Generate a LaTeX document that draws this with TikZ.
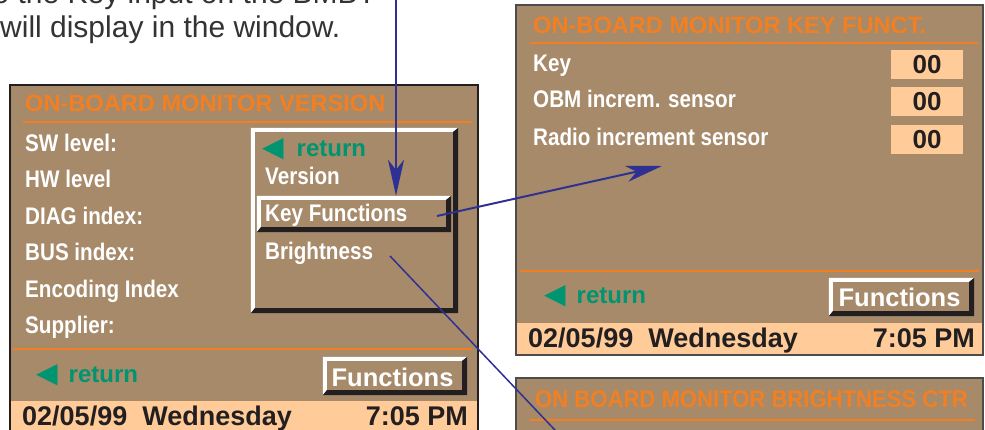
\documentclass[tikz,border=0pt]{standalone}
\usepackage{fontspec}
\setmainfont{Liberation Sans}
\newfontfamily\condfont{Liberation Sans}[FakeStretch=0.86]
\newfontfamily\narrowfont{Liberation Sans}[FakeStretch=0.92]
\newfontfamily\symfont{DejaVu Sans}
\usetikzlibrary{arrows.meta, positioning}

\definecolor{obmtan}{RGB}{166,138,106}
\definecolor{obmorange}{RGB}{242,128,34}
\definecolor{obmpeach}{RGB}{255,204,153}
\definecolor{obmgreen}{RGB}{0,148,112}
\definecolor{obmblue}{RGB}{46,49,146}
\definecolor{obmedge}{RGB}{35,31,32}

\tikzset{
  panel/.style={draw=obmedge, line width=2pt, fill=obmtan, inner sep=0pt},
  framebox/.style={inner sep=0pt, fill=obmtan},
  rule/.style={draw=obmorange, line width=2.5pt},
  title/.style={anchor=base west, inner sep=0pt, text=obmorange, font=\bfseries\fontsize{23.6}{24}\selectfont},
  lab/.style={anchor=base west, inner sep=0pt, text=white, font=\condfont\bfseries\fontsize{24}{24}\selectfont},
  ret/.style={anchor=base west, inner sep=0pt, text=obmgreen, font=\bfseries\fontsize{24}{24}\selectfont},
  btntext/.style={anchor=base, inner sep=0pt, text=white, font=\bfseries\fontsize{25.5}{25.5}\selectfont},
  datebar/.style={fill=obmpeach, inner sep=0pt},
  datetext/.style={inner sep=0pt, text=obmedge, font=\bfseries\fontsize{27}{27}\selectfont},
  valbox/.style={fill=obmpeach, inner sep=0pt, minimum width=72pt, minimum height=29pt, text=obmedge, font=\bfseries\fontsize{26}{26}\selectfont},
  intro/.style={anchor=base west, inner sep=0pt, text=black!80, font=\fontsize{30}{30}\selectfont},
  pointer/.style={draw=obmblue, line width=2pt, -{Stealth[length=36pt, width=16pt, inset=10pt]}}
}

% white top/left edge, dark bottom/right edge
\newcommand{\bevelframe}[1]{%
  \fill[white] (#1.north west) -- (#1.north east) -- ([shift={(-5,4)}]#1.north east)
    -- ([shift={(4,4)}]#1.north west) -- ([shift={(4,-5)}]#1.south west) -- (#1.south west) -- cycle;
  \fill[obmedge] (#1.south west) -- (#1.south east) -- (#1.north east) -- ([shift={(-5,4)}]#1.north east)
    -- ([shift={(-5,-5)}]#1.south east) -- ([shift={(4,-5)}]#1.south west) -- cycle;}
\newcommand{\lefttri}{{\symfont\fontsize{28}{28}\selectfont ◀}}

\begin{document}
\begin{tikzpicture}[x=1pt, y=-1pt]
  \useasboundingbox (0,0) rectangle (985,430);

  % intro text
  \node[intro] (introa) at (-16,4) {to the Key input on the BMBT};
  \node[intro] (introb) at (0,38) {will display in the window.};

  % version screen
  \node[panel, minimum width=468pt, minimum height=355pt] (verpanel) at (244,262.5) {};
  \node[title] (vertitle) at (25,112) {ON-BOARD MONITOR VERSION};
  \draw[rule] (23,122) -- (472,122);
  \foreach \txt [count=\i from 0] in {SW level:, HW level, DIAG index:, BUS index:, Encoding Index, Supplier:}
    \node[lab] (verlab\i) at (25,151.5+36.5*\i) {\txt};
  \node[framebox, minimum width=207pt, minimum height=185pt] (vermenu) at (354.5,220.5) {};
  \bevelframe{vermenu}
  \node[ret] (menuret) at (262,157) {\lefttri\hspace{13pt}return};
  \node[lab] (menuver) at (265,185) {Version};
  \node[framebox, minimum width=194pt, minimum height=36pt] (keyfn) at (354,214) {};
  \bevelframe{keyfn}
  \node[lab] (keyfnlab) at (265,222) {Key Functions};
  \node[lab] (bright) at (265,260) {Brightness};
  \draw[rule] (13,349) -- (472,349);
  \node[ret] (verret) at (36,382) {\lefttri\hspace{11pt}return};
  \node[framebox, minimum width=144pt, minimum height=38pt] (verbtn) at (395,376) {};
  \bevelframe{verbtn}
  \node[btntext] (verbtnlab) at (392.5,386) {Functions};
  \node[datebar, minimum width=466pt, minimum height=39pt] (verbar) at (244,420.5) {};
  \node[datetext, anchor=base west] (verdate) at (22,425) {02/05/99\ \ Wednesday};
  \node[datetext, anchor=base east] (vertime) at (468,425) {7:05 PM};

  % key function screen
  \node[panel, draw=black!70, minimum width=467pt, minimum height=350pt] (keypanel) at (749.5,180) {};
  \node[title] (keytitle) at (533,34) {ON-BOARD MONITOR KEY FUNCT.};
  \draw[rule] (530,43) -- (978,43);
  \node[lab] (keylab0) at (533,72) {Key};
  \node[lab] (keylab1) at (533,108) {OBM increm. sensor};
  \node[lab] (keylab2) at (533,146) {Radio increment sensor};
  \foreach \yy [count=\i from 0] in {64.5, 101.5, 139.5}
    \node[valbox] (keyval\i) at (927,\yy) {00};
  \draw[rule] (520,271) -- (979,271);
  \node[ret] (keyret) at (544,303) {\lefttri\hspace{11pt}return};
  \node[framebox, minimum width=145pt, minimum height=38pt] (keybtn) at (901.5,297) {};
  \bevelframe{keybtn}
  \node[btntext] (keybtnlab) at (899.5,307) {Functions};
  \node[datebar, minimum width=465pt, minimum height=31pt] (keybar) at (749.5,338.5) {};
  \node[datetext, anchor=base west] (keydate) at (528,347) {02/05/99\ \ Wednesday};
  \node[datetext, anchor=base east] (keytime) at (975,347) {7:05 PM};

  % brightness screen
  \node[panel, draw=black!70, minimum width=467pt, minimum height=80pt] (brpanel) at (749.5,418) {};
  \node[title, font=\narrowfont\bfseries\fontsize{24}{24}\selectfont] (brtitle) at (535,407) {ON BOARD MONITOR BRIGHTNESS CTR};
  \draw[rule] (530,420) -- (975,420);

  % pointers
  \coordinate (topin) at (396,-12);
  \draw[pointer] (topin) -- (topin |- keyfn.north);
  \coordinate (keyout) at (437,216);
  \coordinate (keytarget) at (662,166);
  \draw[pointer] (keyout) -- (keytarget);
  \coordinate (brightpt) at (390,256);
  \coordinate (brightout) at (590,467);
  \draw[obmblue, line width=1.5pt] (brightpt) -- (brightout);
\end{tikzpicture}
\end{document}
